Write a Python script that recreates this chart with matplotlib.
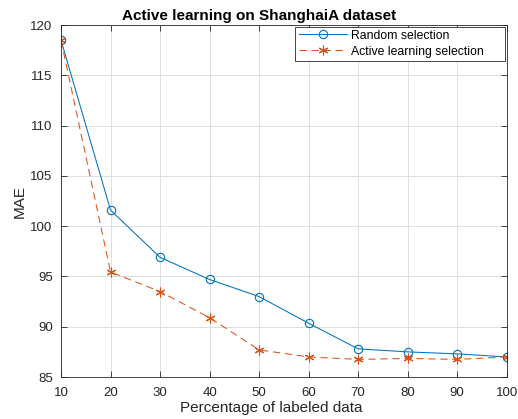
import matplotlib
matplotlib.use('Agg')
import matplotlib.pyplot as plt

# Données
pourcentages = [10, 20, 30, 40, 50, 60, 70, 80, 90, 100]
mae_aleatoire = [118.5, 101.6, 96.9, 94.7, 93.0, 90.35, 87.8, 87.5, 87.3, 87.0]
mae_actif = [118.5, 95.45, 93.5, 90.9, 87.7, 87.0, 86.75, 86.85, 86.75, 87.0]

x_ticks = [10, 20, 30, 40, 50, 60, 70, 80, 90, 100]
y_ticks = [85, 90, 95, 100, 105, 110, 115, 120]

plt.rcParams['font.family'] = ['Liberation Sans', 'DejaVu Sans']

fig = plt.figure(figsize=(5.18, 4.19), dpi=100)
ax = fig.add_axes([0.1178, 0.1002, 0.8604, 0.8398])

ax.plot(pourcentages, mae_aleatoire, color='#0072BD', linewidth=0.75,
        marker='o', markersize=6, markerfacecolor='none', markeredgewidth=0.8,
        label='Random selection')
ax.plot(pourcentages, mae_actif, color='#D95319', linewidth=0.75, linestyle=(0, (7, 4.5)),
        marker=(6, 2, 0), markersize=7, markeredgewidth=0.8,
        label='Active learning selection')

ax.set_xlim(10, 100)
ax.set_ylim(85, 120)
ax.set_xticks(x_ticks)
ax.set_yticks(y_ticks)
ax.tick_params(direction='in', top=True, right=True, labelsize=9.5, length=4,
               colors='#262626', width=0.6)
ax.tick_params(axis='x', pad=7.5)
ax.tick_params(axis='y', pad=6)
ax.grid(True, color='#dedede', linewidth=0.7)
ax.set_axisbelow(True)
for s in ax.spines.values():
    s.set_color('#262626')
    s.set_linewidth(0.6)

# titre et label x décalés comme sur l'original
ax.set_xlabel('Percentage of labeled data', fontsize=11, color='#262626')
ax.xaxis.set_label_coords(0.472, -0.068)
ax.set_ylabel('MAE', fontsize=11, color='#262626', labelpad=3)
ax.set_title('Active learning on ShanghaiA dataset', fontsize=11, fontweight='bold',
             pad=4, x=0.444)

# espaces en fin de label pour élargir le cadre à droite (style MATLAB)
leg = ax.legend(['Random selection' + '\u2002' * 3, 'Active learning selection' + '\u2002' * 3],
                loc='upper right', fontsize=8.8, fancybox=False, framealpha=1,
                edgecolor='#262626', borderaxespad=0.12, handlelength=4.0,
                borderpad=0.25, labelspacing=0.33, handletextpad=0.3)
leg.get_frame().set_linewidth(0.6)

plt.savefig('out.png', dpi=100)
